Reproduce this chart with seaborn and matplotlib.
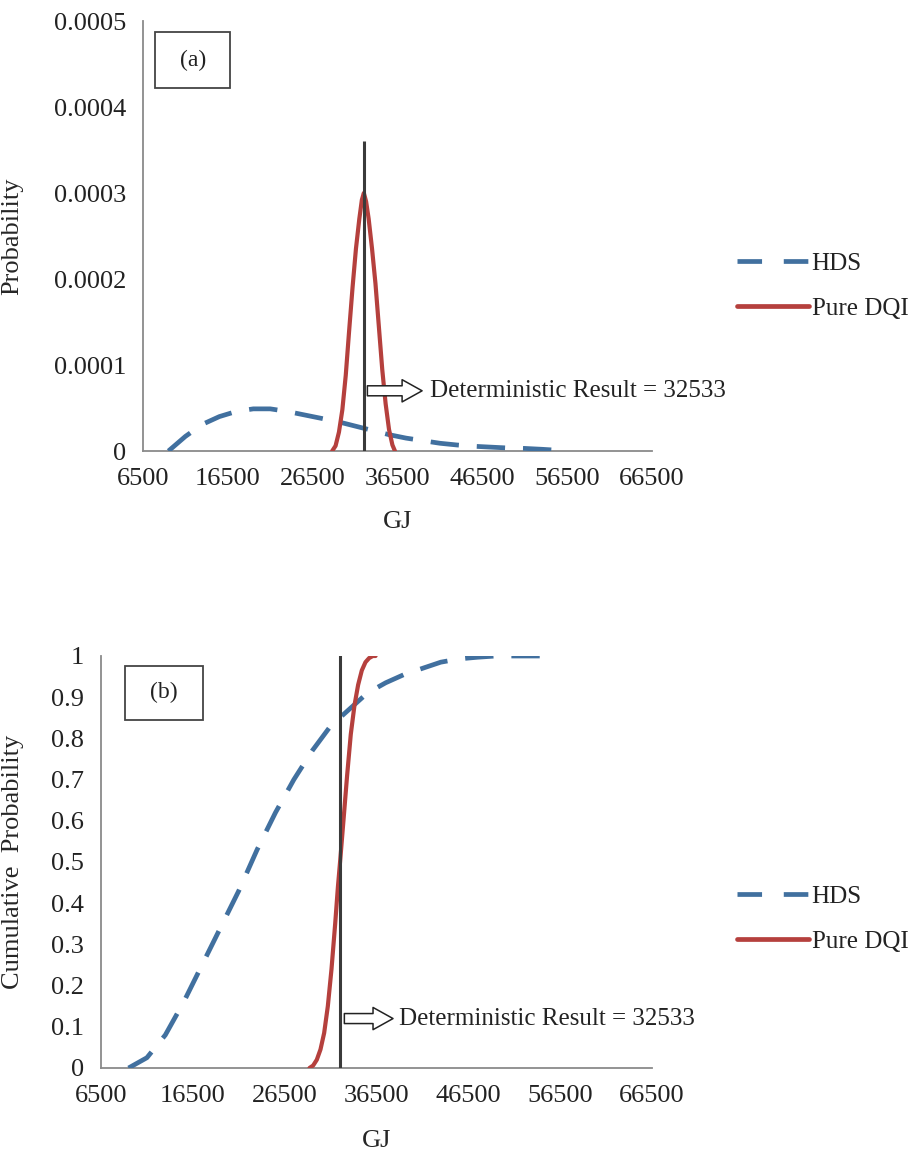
import numpy as np
import pandas as pd
import matplotlib
matplotlib.use("Agg")
import matplotlib.pyplot as plt
from matplotlib.patches import Rectangle
from matplotlib.lines import Line2D
import seaborn as sns

# --- datos ---
# (a) densidad de probabilidad
hds_x = [9500, 11500, 13500, 15500, 17500, 19500, 21500, 23500, 25500, 27500, 29500, 31500,
         33500, 35500, 37500, 39500, 41500, 43500, 45500, 47500, 49500, 51500, 53500, 56000]
hds_pdf = [0.0, 1.7e-5, 3.1e-5, 4.0e-5, 4.6e-5, 4.9e-5, 4.9e-5, 4.6e-5, 4.2e-5, 3.8e-5, 3.4e-5, 2.9e-5,
           2.4e-5, 1.9e-5, 1.5e-5, 1.2e-5, 0.9e-5, 0.7e-5, 0.55e-5, 0.45e-5, 0.35e-5, 0.3e-5, 0.2e-5, 0.05e-5]

dqi_x = [28800, 29200, 29600, 30000, 30400, 30800, 31200, 31600, 32000, 32300, 32533,
         32800, 33100, 33500, 33900, 34300, 34700, 35100, 35500, 35900, 36200]
dqi_pdf = [0.0, 0.6e-5, 2.2e-5, 4.8e-5, 8.8e-5, 14e-5, 19e-5, 23.5e-5, 27e-5, 29.2e-5, 30e-5,
           29e-5, 27e-5, 23.5e-5, 19.5e-5, 14.5e-5, 9.5e-5, 5.5e-5, 2.5e-5, 0.7e-5, 0.0]

# (b) probabilidad acumulada
hds_cdf = [0.0, 0.025, 0.08, 0.16, 0.25, 0.34, 0.43, 0.53, 0.62, 0.70, 0.77, 0.83,
           0.87, 0.91, 0.935, 0.955, 0.97, 0.985, 0.993, 0.997, 1.0, 1.0, 1.0, 1.0]

dqi_cdf_x = [29200, 29600, 30000, 30400, 30800, 31200, 31600, 32000, 32300, 32533, 32900,
             33300, 33700, 34100, 34500, 34900, 35300, 35700, 36100, 36400]
dqi_cdf = [0.0, 0.006, 0.02, 0.045, 0.085, 0.15, 0.24, 0.35, 0.44, 0.5, 0.6,
           0.71, 0.81, 0.88, 0.93, 0.965, 0.985, 0.995, 1.0, 1.0]

deterministic = 32533
series_names = ["HDS", "Pure DQI"]
x_ticks = [6500, 16500, 26500, 36500, 46500, 56500, 66500]
pdf_ticks = [0, 0.0001, 0.0002, 0.0003, 0.0004, 0.0005]
pdf_tick_labels = ["0", "0.0001", "0.0002", "0.0003", "0.0004", "0.0005"]
cdf_ticks = [0, 0.1, 0.2, 0.3, 0.4, 0.5, 0.6, 0.7, 0.8, 0.9, 1.0]
cdf_tick_labels = ["0", "0.1", "0.2", "0.3", "0.4", "0.5", "0.6", "0.7", "0.8", "0.9", "1"]

BLUE = "#41709f"
RED = "#b5403d"
GREY = "#8a8a8a"
HDS_DASH = (0, (6, 3.8))
FS = 19

sns.set_style("white")
plt.rcParams["font.family"] = ["Liberation Serif", "DejaVu Serif"]
plt.rcParams["text.color"] = "#222222"

W, H = 909, 1162
fig = plt.figure(figsize=(W / 100, H / 100), dpi=100)


def px_axes(left, right, top, bottom):
    return fig.add_axes([left / W, 1 - bottom / H, (right - left) / W, (bottom - top) / H])


def style_axes(ax):
    sns.despine(ax=ax)
    for s in ["left", "bottom"]:
        ax.spines[s].set_color(GREY)
        ax.spines[s].set_linewidth(1.3)
    ax.tick_params(axis="both", direction="out", length=6, width=1.2, color=GREY,
                   labelsize=FS, labelcolor="#222222", pad=6)
    ax.set_xlim(6500, 66500)
    ax.set_xticks(x_ticks)
    ax.set_xticklabels([str(t) for t in x_ticks])


def add_legend(ax, y_fig):
    handles = [Line2D([], [], color=BLUE, lw=3.4, linestyle=(0, (5.2, 4.6))),
               Line2D([], [], color=RED, lw=3.4)]
    ax.legend(handles, series_names, loc="upper left", bbox_to_anchor=(724 / W, y_fig),
              bbox_transform=fig.transFigure, frameon=False, fontsize=18,
              handlelength=2.9, handletextpad=0.1, labelspacing=0.9, borderpad=0)


def add_tag(ax, x0, y0, x1, y1, txt):
    ax.add_patch(Rectangle((x0, y0), x1 - x0, y1 - y0, transform=ax.transAxes,
                           fill=False, ec="#444444", lw=1.3, clip_on=False))
    ax.text((x0 + x1) / 2, (y0 + y1) / 2, txt, transform=ax.transAxes,
            ha="center", va="center", fontsize=17)


def add_arrow(ax, x0, x1, y, xt):
    ax.annotate("", xy=(x1, y), xytext=(x0, y),
                arrowprops=dict(arrowstyle="simple,head_length=0.9,head_width=1.0,tail_width=0.45",
                                fc="white", ec="#222222", lw=1.1, shrinkA=0, shrinkB=0,
                                mutation_scale=16))
    ax.text(xt, y, "Deterministic Result = 32533", va="center", ha="left", fontsize=18)


# ---------- (a) ----------
ax1 = px_axes(143, 652, 21, 451)
sns.lineplot(x=hds_x, y=hds_pdf, ax=ax1, color=BLUE, lw=3.4, linestyle=HDS_DASH, zorder=3)
sns.lineplot(x=dqi_x, y=dqi_pdf, ax=ax1, color=RED, lw=3, zorder=3)
ax1.vlines(deterministic, 0, 0.00036, color="#3a3a3a", lw=2.2, zorder=4)
style_axes(ax1)
ax1.set_ylim(0, 0.0005)
ax1.set_yticks(pdf_ticks)
ax1.set_yticklabels(pdf_tick_labels)
ax1.set_ylabel("Probability", fontsize=FS)
ax1.yaxis.set_label_coords(-0.236, 0.5)
ax1.set_xlabel("GJ", fontsize=FS)
ax1.xaxis.set_label_coords(0.5, -0.14)
add_tag(ax1, 0.024, 0.844, 0.171, 0.974, "(a)")
add_arrow(ax1, 32950, 39400, 0.00007, 40300)
add_legend(ax1, 1 - 240 / H)

# ---------- (b) ----------
ax2 = px_axes(101, 652, 656, 1068)
sns.lineplot(x=hds_x, y=hds_cdf, ax=ax2, color=BLUE, lw=3.4, linestyle=HDS_DASH, zorder=3)
sns.lineplot(x=dqi_cdf_x, y=dqi_cdf, ax=ax2, color=RED, lw=3, zorder=3)
ax2.vlines(deterministic, 0, 1.01, color="#3a3a3a", lw=2.2, zorder=4)
style_axes(ax2)
ax2.set_ylim(0, 1.0)
ax2.set_yticks(cdf_ticks)
ax2.set_yticklabels(cdf_tick_labels)
ax2.set_ylabel("Cumulative  Probability", fontsize=FS)
ax2.yaxis.set_label_coords(-0.14, 0.5)
ax2.set_xlabel("GJ", fontsize=FS)
ax2.xaxis.set_label_coords(0.5, -0.15)
add_tag(ax2, 0.044, 0.845, 0.185, 0.976, "(b)")
add_arrow(ax2, 33000, 38300, 0.12, 38900)
add_legend(ax2, 1 - 873 / H)

fig.savefig("out.png", dpi=100, facecolor="white")
